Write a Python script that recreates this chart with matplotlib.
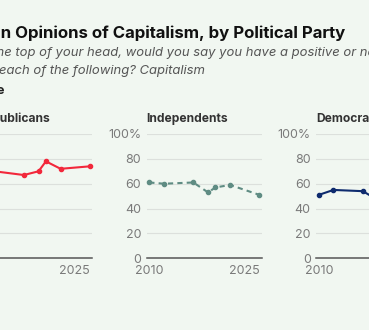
import matplotlib

matplotlib.use('Agg')
import matplotlib.pyplot as plt

# Datos: % con imagen positiva del capitalismo
rep_years = [2010, 2012, 2016, 2018, 2019, 2021, 2025]
rep_values = [72, 70, 67, 70, 78, 72, 74]

ind_years = [2010, 2012, 2016, 2018, 2019, 2021, 2025]
ind_values = [61, 60, 61, 53, 57, 59, 51]

dem_years = [2010, 2012, 2016, 2018]
dem_values = [51, 55, 54, 47]

panel_names = ['Republicans', 'Independents', 'Democrats']
y_ticks = [0, 20, 40, 60, 80, 100]
y_labels = ['0', '20', '40', '60', '80', '100%']
x_ticks = [2010, 2025]

bg = '#F1F7F1'
W, H = 369, 330

plt.rcParams['font.family'] = ['Inter', 'DejaVu Sans']

fig = plt.figure(figsize=(W / 100, H / 100), dpi=100, facecolor=bg)
renderer = fig.canvas.get_renderer()


def px(x, y):
    # pixel coords (top-left origin) -> figure fraction
    return x / W, 1 - y / H


def text_width(s, **kw):
    t = fig.text(0, 0, s, **kw)
    w = t.get_window_extent(renderer).width
    t.remove()
    return w


# Título: la parte visible "n Opinions ... Party" ocupa de x=0 a x=346.7
title_kw = dict(fontweight='bold')
w13 = text_width('n Opinions of Capitalism, by Political Party', fontsize=13, **title_kw)
title_size = 13 * 346.7 / w13
pre = text_width('Trends i', fontsize=title_size, **title_kw)
tx, ty = px(-pre + 0.5, 38)
fig.text(tx, ty, 'Trends in Opinions of Capitalism, by Political Party',
         ha='left', va='baseline', fontsize=title_size, color='#111111', **title_kw)

x0 = -59  # margen izquierdo del gráfico original (fuera del recorte)
sx, sy = px(x0, 55.7)
fig.text(sx, sy, 'Just off the top of your head, would you say you have a positive or negative',
         ha='left', va='baseline', fontsize=9.4, style='italic', color='#555555')
sx, sy = px(x0, 74)
fig.text(sx, sy, 'image of each of the following? Capitalism',
         ha='left', va='baseline', fontsize=9.4, style='italic', color='#555555')
sx, sy = px(x0 - 5, 94)
fig.text(sx, sy, '% Positive', ha='left', va='baseline', fontsize=9.5,
         fontweight='bold', color='#222222')

series = [
    (rep_years, rep_values, dict(color='#F2283B', linestyle='-')),
    (ind_years, ind_values, dict(color='#5F8C83', linestyle=(0, (2.5, 2)))),
    (dem_years, dem_values, dict(color='#0E2B6E', linestyle='-')),
]

ax_w = 115.0
ax_top, ax_bot = 134.0, 258.3
lefts = [146.7 - 169.5, 146.7, 146.7 + 169.5]

for left, name, (xs, ys, style) in zip(lefts, panel_names, series):
    ax = fig.add_axes([left / W, 1 - ax_bot / H, ax_w / W, (ax_bot - ax_top) / H])
    ax.set_facecolor('none')
    ax.plot(xs, ys, lw=1.5, marker='o', markersize=3, clip_on=False, **style)
    ax.set_xlim(2009.65, 2025.3)
    ax.set_ylim(0, 100)
    for v in y_ticks[1:]:
        ax.axhline(v, color='#DCE0DC', lw=0.8, zorder=0)
    ax.axhline(0, color='#555555', lw=1.1, zorder=1, clip_on=False)
    for s in ax.spines.values():
        s.set_visible(False)
    ax.set_yticks(y_ticks)
    ax.set_yticklabels(y_labels)
    ax.set_xticks(x_ticks)
    ax.set_xticklabels([str(t) for t in x_ticks])
    ax.tick_params(length=0, labelsize=9, labelcolor='#7A7A7A')
    ax.tick_params(axis='y', pad=4)
    ax.tick_params(axis='x', pad=5)
    ax.get_xticklabels()[-1].set_ha('right')
    ax.text(0, 1.1, name, transform=ax.transAxes, ha='left', va='baseline',
            fontsize=8.7, fontweight='bold', color='#333333')

fig.savefig('out.png', dpi=100, facecolor=bg)
